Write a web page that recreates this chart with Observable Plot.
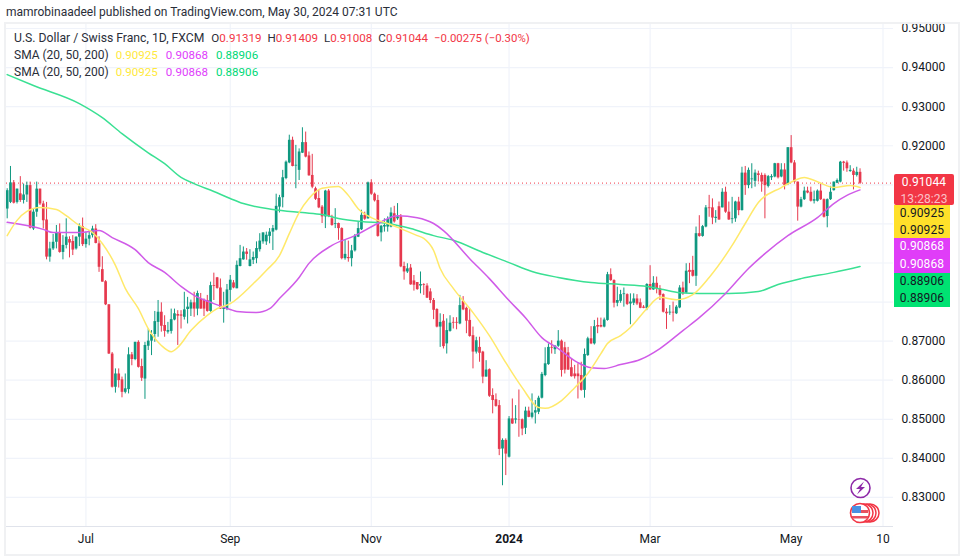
<!DOCTYPE html>
<html>
<head>
<meta charset="utf-8">
<script src="https://cdn.jsdelivr.net/npm/d3@7"></script>
<script src="https://cdn.jsdelivr.net/npm/@observablehq/plot@0.6"></script>
<style>
html,body{margin:0;padding:0;background:#fff;overflow:hidden}
#page{position:relative;width:963px;height:559px;font-family:Roboto,sans-serif;color:#131722;overflow:hidden}
#page svg.plot{position:absolute;left:0;top:0;background:transparent}
.abs{position:absolute;white-space:nowrap}
#box{position:absolute;left:4px;top:22px;width:952px;height:530px;border:2px solid #f0f1f3;box-sizing:content-box}
.leg{font-size:12.2px;line-height:17px;left:14px;color:#2a2e39}
.leg span{margin-left:6px;font-size:11.6px}
.tag{position:absolute;left:894px;font-size:12px;line-height:16.5px;text-align:center;font-weight:400;letter-spacing:.1px}
</style>
</head>
<body>
<div id="page">
<div id="box"></div>
<div class="abs" style="left:6px;top:4px;font-size:12px;line-height:16px;color:#2a2e39">mamrobinaadeel published on TradingView.com, May 30, 2024 07:31 UTC</div>
<div id="chart"></div>
<div class="abs leg" style="top:30px">U.S. Dollar / Swiss Franc, 1D, FXCM<span style="margin-left:7px">O</span><span style="color:#f23645;margin:0">0.91319</span><span>H</span><span style="color:#f23645;margin:0">0.91409</span><span>L</span><span style="color:#f23645;margin:0">0.91008</span><span>C</span><span style="color:#f23645;margin:0">0.91044</span><span style="color:#f23645;font-size:11.4px">−0.00275 (−0.30%)</span></div>
<div class="abs leg" style="top:47px;font-size:12px">SMA (20, 50, 200)<span style="color:#ffe93b;margin-left:7px">0.90925</span><span style="color:#e040fb;margin-left:8px">0.90868</span><span style="color:#00d977;margin-left:8px">0.88906</span></div>
<div class="abs leg" style="top:64px;font-size:12px">SMA (20, 50, 200)<span style="color:#ffe93b;margin-left:7px">0.90925</span><span style="color:#e040fb;margin-left:8px">0.90868</span><span style="color:#00d977;margin-left:8px">0.88906</span></div>
<div class="tag" style="top:174px;width:60px;height:31px;background:#f23645;color:#fff;border-radius:2px">0.91044<br><span style="color:#fbc0c7">13:28:23</span></div>
<div class="tag" style="top:205px;width:56px;height:33px;background:#ffe02a;color:#131722">0.90925<br>0.90925</div>
<div class="tag" style="top:238px;width:56px;height:35px;background:#e03df8;color:#fff;line-height:17.5px">0.90868<br>0.90868</div>
<div class="tag" style="top:273px;width:56px;height:34px;background:#00e272;color:#131722;line-height:17px">0.88906<br>0.88906</div>
<svg class="abs" style="left:845px;top:476px" width="42" height="50" viewBox="0 0 42 50">
<circle cx="15.5" cy="12" r="9.5" fill="#fff" stroke="#8e2aa8" stroke-width="1.6"/>
<path d="M19 5.5 L11 13 L15 13 L12 18.5 L20 11 L16 11 Z" fill="#8e2aa8"/>
<circle cx="25" cy="37" r="9" fill="#fff" stroke="#f23645" stroke-width="1.5"/>
<circle cx="22" cy="37" r="9" fill="#fff" stroke="#f23645" stroke-width="1.5"/>
<circle cx="19" cy="37" r="9" fill="#fff" stroke="#f23645" stroke-width="1.5"/>
<circle cx="15" cy="37" r="9.5" fill="#fff" stroke="#f23645" stroke-width="1.6"/>
<path d="M7 34 H23 V37 H7Z M7 40 H23 V42.5 H7Z" fill="#e8505f"/>
<path d="M7 30 H16 V37 H7Z" fill="#4a90e2"/>
</svg>
</div>
<script>
// Daily bars in pips (value x 10000)
const opens = [9038,9055,9105,9055,9077,9060,9074,9098,8987,9030,9089,9051,9010,8915,8936,8953,8976,8927,8945,8960,8955,8936,8966,8993,8947,8961,8970,8987,8949,8883,8852,8793,8667,8582,8616,8601,8569,8576,8665,8653,8697,8635,8603,8687,8700,8717,8748,8774,8740,8723,8725,8754,8768,8767,8761,8781,8782,8798,8782,8808,8804,8804,8776,8842,8862,8836,8781,8782,8830,8849,8834,8891,8908,8928,8891,8907,8911,8934,8954,8954,8968,8979,8984,9043,9067,9116,9156,9214,9148,9137,9181,9208,9174,9124,9090,9065,9043,9018,9084,9013,8999,9001,8988,8911,8914,8911,8931,8966,8985,9022,9013,9105,9076,9060,8977,8992,8992,8992,9026,9013,9018,8891,8877,8887,8854,8850,8841,8845,8841,8826,8804,8781,8736,8751,8693,8725,8748,8748,8744,8802,8784,8753,8714,8672,8684,8672,8608,8627,8561,8550,8535,8424,8446,8403,8501,8498,8499,8499,8477,8521,8505,8516,8518,8554,8612,8640,8684,8678,8687,8700,8683,8670,8632,8616,8616,8612,8574,8663,8706,8693,8740,8740,8736,8753,8870,8855,8797,8802,8819,8819,8795,8797,8808,8798,8787,8783,8845,8831,8848,8834,8819,8774,8772,8774,8770,8785,8836,8823,8881,8881,8866,8975,8968,8992,9041,9041,9014,9044,9041,9081,9030,9011,9013,9056,9034,9130,9098,9113,9109,9128,9124,9124,9096,9118,9120,9154,9120,9138,9101,9195,9156,9107,9043,9062,9084,9081,9058,9058,9084,9062,9019,9062,9085,9104,9107,9158,9156,9134,9135,9124,9132];
const highs = [9090,9147,9111,9089,9121,9102,9107,9107,9038,9107,9089,9058,9055,8953,8973,8996,9000,8970,9013,8967,8970,8967,9000,9015,8979,8983,8994,8998,8967,8916,8855,8793,8671,8629,8629,8608,8616,8683,8671,8697,8701,8654,8697,8731,8727,8776,8804,8798,8765,8748,8782,8782,8778,8778,8825,8812,8805,8825,8828,8822,8808,8817,8851,8874,8863,8859,8825,8845,8868,8855,8905,8945,8941,8937,8934,8928,8954,8975,8977,8979,8988,8996,9076,9073,9137,9161,9227,9222,9201,9192,9246,9235,9184,9178,9094,9086,9047,9086,9088,9022,9039,9002,8990,8958,8956,8945,8973,9005,9035,9030,9107,9113,9079,9073,8996,9013,9018,9041,9045,9052,9024,8902,8898,8896,8868,8850,8877,8847,8847,8834,8809,8783,8770,8768,8757,8765,8760,8760,8817,8814,8787,8783,8736,8710,8710,8674,8650,8629,8578,8565,8548,8450,8450,8507,8552,8535,8575,8501,8531,8531,8565,8548,8559,8620,8683,8693,8701,8689,8727,8703,8697,8684,8655,8638,8642,8646,8680,8710,8737,8753,8759,8759,8759,8876,8885,8857,8838,8830,8836,8821,8821,8821,8819,8808,8791,8847,8893,8865,8864,8842,8821,8783,8791,8800,8791,8842,8851,8898,8899,8917,8992,9021,8996,9047,9073,9064,9034,9056,9090,9094,9056,9068,9058,9068,9145,9147,9143,9154,9138,9135,9130,9128,9124,9126,9155,9155,9154,9154,9195,9226,9162,9107,9068,9094,9094,9094,9084,9087,9102,9064,9064,9096,9107,9115,9160,9160,9161,9149,9141,9145,9141];
const lows = [9013,9052,9051,9051,9055,9051,9055,8987,8983,9017,9047,8987,8908,8902,8932,8936,8925,8908,8936,8913,8919,8933,8942,8942,8938,8944,8964,8949,8876,8851,8791,8666,8580,8567,8580,8555,8565,8565,8637,8650,8631,8597,8551,8676,8663,8697,8710,8723,8710,8718,8718,8752,8689,8731,8754,8744,8763,8761,8765,8782,8763,8774,8774,8804,8833,8781,8746,8778,8800,8834,8834,8890,8907,8907,8890,8896,8898,8928,8948,8945,8949,8932,8982,9028,9041,9113,9154,9146,9090,9111,9180,9169,9122,9090,9060,9039,9001,8988,9016,8994,8988,8958,8908,8907,8902,8890,8928,8965,8983,9009,9012,9073,9056,8966,8954,8979,8979,8990,9002,9009,8888,8856,8873,8843,8828,8830,8821,8817,8809,8796,8755,8734,8684,8680,8667,8723,8731,8729,8742,8778,8719,8710,8629,8667,8646,8591,8608,8556,8514,8531,8407,8330,8356,8401,8487,8488,8454,8458,8461,8504,8501,8488,8512,8552,8609,8638,8667,8666,8684,8608,8616,8625,8608,8603,8552,8572,8554,8661,8691,8690,8719,8734,8734,8751,8853,8785,8788,8797,8787,8791,8742,8791,8791,8783,8783,8778,8830,8830,8821,8804,8772,8730,8766,8749,8768,8783,8817,8821,8847,8864,8840,8966,8966,8990,9017,8998,9002,9009,9041,9027,9009,9000,9004,9021,9033,9073,9090,9090,9094,9107,9081,9013,9092,9111,9118,9115,9118,9087,9098,9154,9104,9007,9041,9060,9077,9056,9051,9056,9060,9015,8990,9060,9084,9103,9105,9135,9132,9132,9087,9120,9101];
const closes = [9085,9105,9053,9089,9060,9074,9098,8989,9030,9089,9051,9008,8915,8936,8953,8976,8927,8945,8966,8951,8933,8966,8993,8947,8961,8970,8987,8950,8889,8851,8793,8667,8582,8616,8599,8569,8578,8665,8653,8697,8633,8605,8689,8700,8717,8750,8774,8738,8725,8727,8755,8770,8764,8764,8780,8787,8798,8782,8822,8782,8782,8776,8842,8840,8835,8782,8784,8831,8856,8836,8894,8911,8928,8922,8908,8914,8937,8956,8977,8971,8979,8988,9045,9067,9118,9158,9214,9147,9150,9184,9208,9171,9123,9094,9063,9041,9018,9084,9019,8996,9001,8988,8911,8922,8911,8931,8968,8988,9022,9012,9105,9076,9059,8968,8994,8996,9011,9028,9005,9018,8890,8877,8885,8844,8843,8832,8845,8843,8810,8804,8779,8736,8748,8686,8727,8746,8746,8746,8791,8780,8751,8712,8672,8701,8669,8608,8626,8559,8548,8533,8423,8446,8411,8501,8488,8501,8498,8475,8521,8505,8516,8522,8554,8615,8642,8684,8682,8687,8700,8625,8626,8626,8609,8609,8609,8574,8666,8706,8693,8737,8736,8736,8754,8870,8855,8797,8804,8819,8821,8794,8800,8808,8795,8784,8784,8845,8831,8848,8834,8817,8774,8770,8774,8772,8787,8836,8821,8879,8876,8866,8975,8968,8993,9041,9039,9015,9017,9010,9081,9030,9010,9013,9056,9034,9130,9098,9137,9115,9130,9124,9107,9098,9121,9121,9154,9118,9138,9098,9195,9156,9107,9043,9062,9084,9079,9058,9062,9084,9062,9017,9062,9081,9107,9111,9158,9155,9141,9137,9124,9132,9104];

// Moving averages, read at selected bars
const sma20Bars = [0,3,6,10,15,18,22,26,29,33,36,40,43,47,50,52,56,61,64,68,75,79,83,86,89,92,96,101,104,107,111,116,120,125,127,130,132,136,142,147,152,157,162,164,169,173,177,181,183,187,190,195,199,204,209,214,221,225,229,236,240,243,247,252,257,260];
const sma20Values = [8970,9009,9032,9042,9037,9021,8996,8978,8950,8894,8835,8783,8732,8689,8673,8684,8727,8766,8783,8796,8847,8881,8919,8975,9029,9065,9091,9096,9073,9039,9016,9001,8988,8970,8963,8932,8886,8835,8773,8714,8645,8581,8530,8528,8548,8581,8617,8668,8694,8714,8735,8783,8812,8806,8819,8863,8945,9001,9055,9093,9111,9119,9108,9093,9098,9093];
const sma50Bars = [0,11,14,22,28,32,39,43,48,53,57,63,68,70,76,80,83,89,92,99,106,113,119,125,130,133,141,147,153,158,163,168,174,178,182,187,193,199,206,211,219,226,231,238,247,252,256,260];
const sma50Values = [9004,8986,8978,8978,8983,8965,8934,8901,8876,8840,8817,8796,8781,8776,8773,8783,8809,8863,8899,8945,8970,9001,9021,9016,9001,8983,8911,8860,8804,8760,8709,8681,8645,8632,8630,8640,8653,8681,8727,8760,8822,8886,8924,8970,9016,9052,9073,9087];
const sma200Bars = [0,8,22,29,35,43,48,53,57,63,68,72,81,90,96,101,108,116,123,130,136,145,153,160,168,178,187,195,200,205,211,220,229,235,242,252,260];
const sma200Values = [9382,9354,9308,9272,9231,9182,9154,9119,9103,9083,9065,9052,9037,9029,9024,9014,9006,9001,8988,8970,8958,8927,8901,8878,8863,8850,8845,8840,8832,8824,8822,8822,8827,8845,8860,8876,8891];

const priceTicks = [0.95,0.94,0.93,0.92,0.91,0.90,0.89,0.88,0.87,0.86,0.85,0.84,0.83];
const priceLabels = [0.95,0.94,0.93,0.92,0.87,0.86,0.85,0.84,0.83];
const lastClose = 0.91044;
const timeBars = [24,68,111,153,196,239,267];
const timeLabels = ["Jul","Sep","Nov","2024","Mar","May","10"];

const bars = opens.map((o,i)=>({i,open:o/1e4,high:highs[i]/1e4,low:lows[i]/1e4,close:closes[i]/1e4,up:closes[i]>=o}));
const pts = (xs,ys)=>xs.map((x,k)=>({x,y:ys[k]/1e4}));
const UP="#0f9880", DOWN="#e6394e";

const chart = Plot.plot({
  width:963,height:559,
  marginLeft:6,marginRight:70,marginTop:23,marginBottom:33,
  style:{background:"transparent",fontFamily:"Roboto,sans-serif",fontSize:"12px",color:"#131722"},
  x:{type:"linear",domain:[-0.21,270.2],axis:null},
  y:{type:"linear",domain:[0.82257,0.95128],axis:null},
  marks:[
    Plot.gridX(timeBars,{stroke:"#f0f3fa",strokeOpacity:1,strokeWidth:1.2}),
    Plot.gridY(priceTicks,{stroke:"#f0f3fa",strokeOpacity:1,strokeWidth:1.2}),
    Plot.ruleY([lastClose],{stroke:"#f23645",strokeDasharray:"1,3",strokeWidth:1}),
    Plot.ruleY([0.82257],{stroke:"#e0e3eb"}),
    Plot.ruleX(bars.filter(d=>d.up),{x:"i",y1:"low",y2:"high",stroke:UP,strokeWidth:1}),
    Plot.ruleX(bars.filter(d=>!d.up),{x:"i",y1:"low",y2:"high",stroke:DOWN,strokeWidth:1}),
    Plot.ruleX(bars.filter(d=>d.up),{x:"i",y1:"open",y2:"close",stroke:UP,strokeWidth:2.7}),
    Plot.ruleX(bars.filter(d=>!d.up),{x:"i",y1:"open",y2:"close",stroke:DOWN,strokeWidth:2.7}),
    Plot.line(pts(sma200Bars,sma200Values),{x:"x",y:"y",stroke:"#3ae093",strokeWidth:1.5,curve:"monotone-x"}),
    Plot.line(pts(sma50Bars,sma50Values),{x:"x",y:"y",stroke:"#d05be8",strokeWidth:1.5,curve:"monotone-x"}),
    Plot.line(pts(sma20Bars,sma20Values),{x:"x",y:"y",stroke:"#ffe96a",strokeWidth:1.5,curve:"monotone-x"}),
    Plot.axisY(priceLabels,{anchor:"right",tickSize:0,tickPadding:8,tickFormat:d3.format(".5f"),label:null,fontSize:12,fill:"#131722"}),
    Plot.axisX(timeBars.filter(b=>b!==153),{anchor:"bottom",tickSize:0,tickPadding:8,label:null,fontSize:12,fill:"#131722",tickFormat:b=>timeLabels[timeBars.indexOf(b)]}),
    Plot.axisX([153],{anchor:"bottom",tickSize:0,tickPadding:8,label:null,fontSize:12,fontWeight:"bold",fill:"#131722",tickFormat:b=>timeLabels[timeBars.indexOf(b)]})
  ]
});
document.getElementById("chart").appendChild(chart);
</script>
</body>
</html>
